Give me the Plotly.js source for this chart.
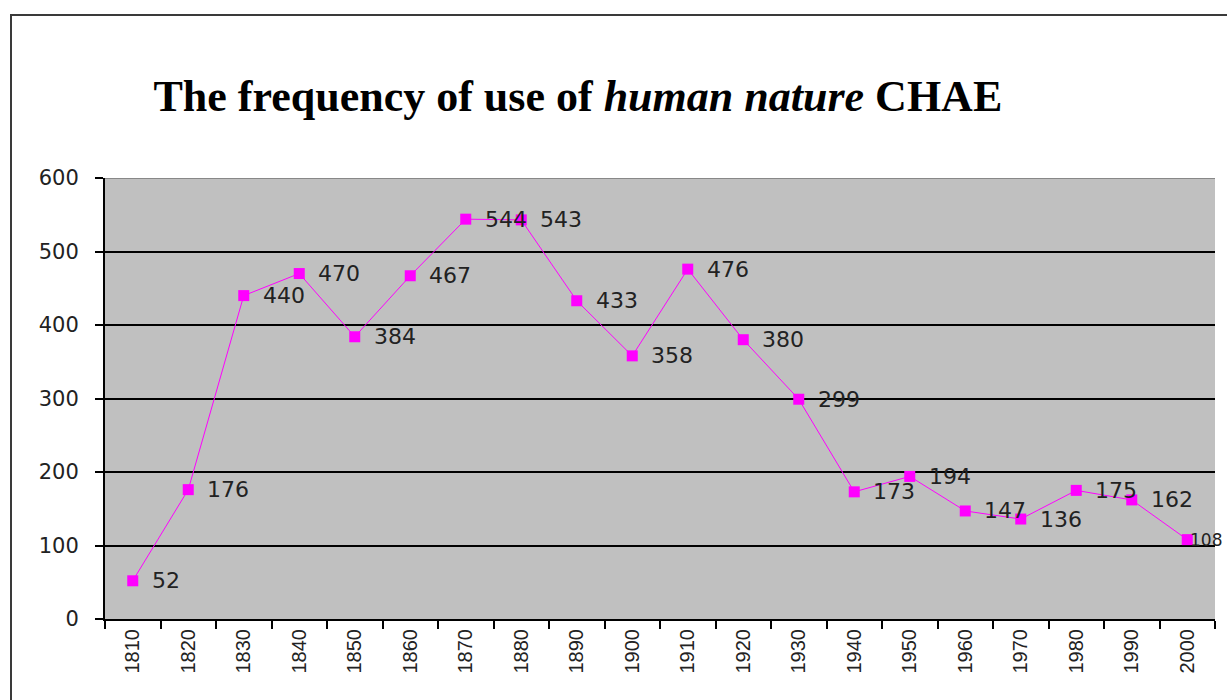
<!DOCTYPE html>
<html>
<head>
<meta charset="utf-8">
<script src="https://cdn.plot.ly/plotly-3.0.1.min.js"></script>
<style>
  html, body { margin: 0; padding: 0; background: #fff; overflow: hidden; }
  #frame { position: absolute; left: 10px; top: 14px; width: 1400px; height: 900px; border: 2px solid #3a3a3a; box-sizing: border-box; }
  #chart { position: absolute; left: 0; top: 0; width: 1227px; height: 700px; }
</style>
</head>
<body>
<div id="frame"></div>
<div id="chart"></div>
<script>
const years = ["1810","1820","1830","1840","1850","1860","1870","1880","1890","1900",
               "1910","1920","1930","1940","1950","1960","1970","1980","1990","2000"];
const frequency = [52,176,440,470,384,467,544,543,433,358,476,380,299,173,194,147,136,175,162,108];
const titleText = "The frequency of use of <i>human nature</i> CHAE";

const trace = {
  x: years,
  y: frequency,
  type: "scatter",
  mode: "lines+markers",
  line: { color: "#ff00ff", width: 1 },
  marker: { symbol: "square", size: 11, color: "#ff00ff" },
  hoverinfo: "x+y"
};

const lastIdx = years.length - 1;
const annotations = years.map((yr, i) => ({
  x: i, y: frequency[i], xref: "x", yref: "y",
  text: String(frequency[i]),
  showarrow: false, xanchor: "left", yanchor: "middle",
  borderpad: 0,
  xshift: i === lastIdx ? 2 : 18,
  font: { family: "DejaVu Sans, Arial, sans-serif", size: i === lastIdx ? 17 : 22, color: "#222" }
}));

const layout = {
  width: 1227, height: 700,
  paper_bgcolor: "rgba(0,0,0,0)",
  plot_bgcolor: "#c0c0c0",
  margin: { l: 105, r: 12, t: 178, b: 81, pad: 0 },
  showlegend: false,
  title: {
    text: titleText,
    x: 0.426, xanchor: "center", xref: "paper",
    y: 0.864, yanchor: "middle", yref: "container",
    font: { family: "Liberation Serif, Times New Roman, serif", size: 44, color: "#000", weight: "bold" }
  },
  xaxis: {
    type: "category",
    tickson: "boundaries",
    ticks: "outside", ticklen: 8, tickwidth: 2, tickcolor: "#000",
    showline: true, linecolor: "#000", linewidth: 2,
    showgrid: false,
    tickangle: -90,
    tickfont: { family: "Liberation Sans, Arial, sans-serif", size: 20, color: "#222" },
    range: [-0.5, 19.5]
  },
  yaxis: {
    range: [0, 600], dtick: 100, tick0: 0,
    ticks: "outside", ticklen: 8, tickwidth: 2, tickcolor: "#000",
    showline: true, linecolor: "#000", linewidth: 2,
    showgrid: true, gridcolor: "#000", gridwidth: 2,
    zeroline: false,
    ticklabelstandoff: 12,
    tickfont: { family: "DejaVu Sans, Arial, sans-serif", size: 21, color: "#222" }
  },
  shapes: [{
    type: "line", xref: "paper", yref: "y", x0: 0, x1: 1, y0: 600, y1: 600,
    line: { color: "#888", width: 2 }
  }],
  annotations: annotations
};

Plotly.newPlot("chart", [trace], layout, { displayModeBar: false, staticPlot: true });
</script>
</body>
</html>
